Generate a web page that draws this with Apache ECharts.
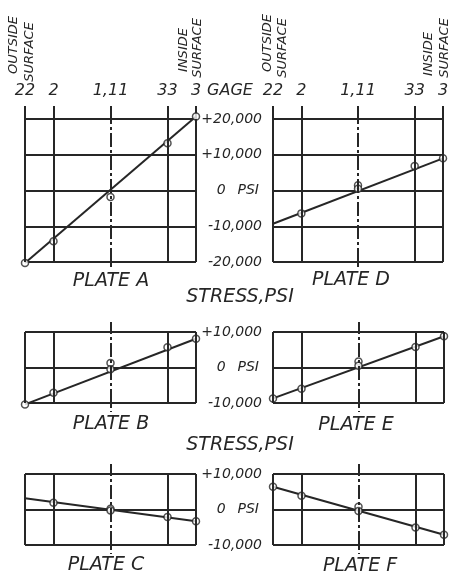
<!DOCTYPE html>
<html>
<head>
<meta charset="utf-8">
<script src="https://cdn.jsdelivr.net/npm/echarts@6/dist/echarts.min.js"></script>
<style>
  html, body { margin: 0; padding: 0; background: #fff; }
  #chart { width: 456px; height: 573px; }
</style>
</head>
<body>
<div id="chart"></div>
<script>
// gage positions across the plate thickness (outside -> inside)
const gagePos = [0, 1, 3, 5, 6];
const gageNames = ['22', '2', '1,11', '33', '3'];

// measured points: gages 22, 2, 1, 11, 33, 3 (null = no point drawn)
const pointX = [0, 1, 3, 3, 5, 6];
const plateA = [-20300, -14200, -1800, null, 13200, 20700];
const plateD = [null, -6400, 1500, 500, 6850, 9000];
const plateB = [-10400, -7100, 1300, -500, 5700, 8100];
const plateE = [-8700, -6000, 1700, 500, 5800, 8800];
const plateC = [null, 1900, 200, -300, -2100, -3300];
const plateF = [6400, 3900, 800, -400, -5100, -7100];

// straight stress line, value at outside (x=0) and inside (x=6)
const lineX = [0, 6];
const lineA = [-20300, 20700];
const lineD = [-9300, 9000];
const lineB = [-10400, 8100];
const lineE = [-8700, 8800];
const lineC = [3200, -3300];
const lineF = [6400, -7100];

// stress tick labels
const ticksBig = [-20000, -10000, 0, 10000, 20000];
const labelsBig = ['-20,000', '-10,000', '0 PSI', '+10,000', '+20,000'];
const ticksSmall = [-10000, 0, 10000];
const labelsSmall = ['-10,000', '0 PSI', '+10,000'];

const ink = '#262626';
const fam = 'DejaVu Sans';

const chart = echarts.init(document.getElementById('chart'));

const panels = [
  { name: 'A', pts: plateA, line: lineA, grid: { left: 25, top: 119, width: 171, height: 143 }, big: true, labels: false },
  { name: 'D', pts: plateD, line: lineD, grid: { left: 273, top: 119, width: 170, height: 143 }, big: true, labels: true },
  { name: 'B', pts: plateB, line: lineB, grid: { left: 25, top: 332, width: 171, height: 71 }, big: false, labels: false },
  { name: 'E', pts: plateE, line: lineE, grid: { left: 273, top: 332, width: 171, height: 71 }, big: false, labels: true },
  { name: 'C', pts: plateC, line: lineC, grid: { left: 25, top: 474, width: 171, height: 71 }, big: false, labels: false },
  { name: 'F', pts: plateF, line: lineF, grid: { left: 273, top: 474, width: 171, height: 71 }, big: false, labels: true }
];

const grids = [], xAxes = [], yAxes = [], series = [];

panels.forEach((p, i) => {
  grids.push(Object.assign({ containLabel: false }, p.grid));
  const ticks = p.big ? ticksBig : ticksSmall;
  const labs = p.big ? labelsBig : labelsSmall;

  // top axis: gage labels and the short extensions above the box
  xAxes.push({
    type: 'value', gridIndex: i, position: 'top', min: 0, max: 6,
    axisLine: { show: false, onZero: false },
    splitLine: { show: false },
    axisTick: {
      show: true, inside: false,
      customValues: p.big ? gagePos : [3],
      length: p.big ? 13 : 10,
      lineStyle: { color: ink, width: 2 }
    },
    axisLabel: {
      show: p.big, customValues: gagePos, margin: 20,
      formatter: v => gageNames[gagePos.indexOf(v)],
      color: ink, fontFamily: fam, fontStyle: 'italic', fontSize: 16
    }
  });
  // bottom axis: center line extension below the box
  xAxes.push({
    type: 'value', gridIndex: i, position: 'bottom', min: 0, max: 6,
    axisLine: { show: false, onZero: false },
    splitLine: { show: false },
    axisLabel: { show: false },
    axisTick: {
      show: true, inside: false, customValues: [3],
      length: p.big ? 6 : 9,
      lineStyle: { color: ink, width: 2, type: [5, 3] }
    }
  });
  yAxes.push({
    type: 'value', gridIndex: i, position: 'left',
    min: p.big ? -20000 : -10000, max: p.big ? 20000 : 10000, interval: 10000,
    axisLine: { show: false, onZero: false },
    axisTick: { show: false },
    splitLine: { show: true, lineStyle: { color: ink, width: 2 } },
    axisLabel: {
      show: p.labels, margin: 11,
      color: ink, fontFamily: fam, fontStyle: 'italic', fontSize: 14,
      formatter: v => {
        const t = labs[ticks.indexOf(v)];
        return t === '0 PSI' ? '{z|0}{p|PSI}' : t;
      },
      rich: {
        z: { fontFamily: fam, fontStyle: 'italic', fontSize: 14, color: ink, padding: [0, 12, 0, 0] },
        p: { fontFamily: fam, fontStyle: 'italic', fontSize: 14, color: ink, padding: [0, 3, 0, 0] }
      }
    }
  });

  series.push({
    type: 'line', xAxisIndex: 2 * i, yAxisIndex: i,
    data: lineX.map((x, k) => [x, p.line[k]]),
    symbol: 'none', clip: false, silent: true,
    lineStyle: { color: ink, width: 2 },
    markLine: {
      silent: true, symbol: 'none', label: { show: false },
      lineStyle: { color: ink, width: 2, type: 'solid' },
      data: [
        { xAxis: gagePos[0] },
        { xAxis: gagePos[1] },
        { xAxis: gagePos[2], lineStyle: { type: [14, 3, 3, 3] } },
        { xAxis: gagePos[3] },
        { xAxis: gagePos[4] }
      ]
    },
    z: 2
  });
  series.push({
    type: 'scatter', xAxisIndex: 2 * i, yAxisIndex: i,
    data: pointX.map((x, k) => [x, p.pts[k]]).filter(d => d[1] !== null),
    symbol: 'circle', symbolSize: 7, clip: false, silent: true,
    itemStyle: { color: '#fff', borderColor: ink, borderWidth: 1.5 },
    z: 3
  });
});

const txt = (text, x, y, size, rot) => ({
  type: 'text', x: x, y: y, rotation: rot || 0, silent: true,
  style: {
    text: text, fill: ink, align: 'center', verticalAlign: 'middle',
    font: 'italic ' + size + 'px "' + fam + '"'
  }
});

const graphic = [
  txt('OUTSIDE', 14, 45, 13, Math.PI / 2),
  txt('SURFACE', 30, 52, 13, Math.PI / 2),
  txt('INSIDE', 184, 50, 13, Math.PI / 2),
  txt('SURFACE', 198, 48, 13, Math.PI / 2),
  txt('OUTSIDE', 268, 43, 13, Math.PI / 2),
  txt('SURFACE', 283, 48, 13, Math.PI / 2),
  txt('INSIDE', 429, 54, 13, Math.PI / 2),
  txt('SURFACE', 445, 48, 13, Math.PI / 2),
  txt('GAGE', 230, 91, 16),
  txt('PLATE A', 111, 281, 19),
  txt('PLATE D', 351, 280, 19),
  txt('STRESS,PSI', 240, 297, 19),
  txt('PLATE B', 111, 424, 19),
  txt('PLATE E', 356, 425, 19),
  txt('STRESS,PSI', 240, 445, 19),
  txt('PLATE C', 106, 565, 19),
  txt('PLATE F', 360, 566, 19)
];

chart.setOption({
  animation: false,
  backgroundColor: '#fff',
  grid: grids,
  xAxis: xAxes,
  yAxis: yAxes,
  series: series,
  graphic: graphic
});
</script>
</body>
</html>
